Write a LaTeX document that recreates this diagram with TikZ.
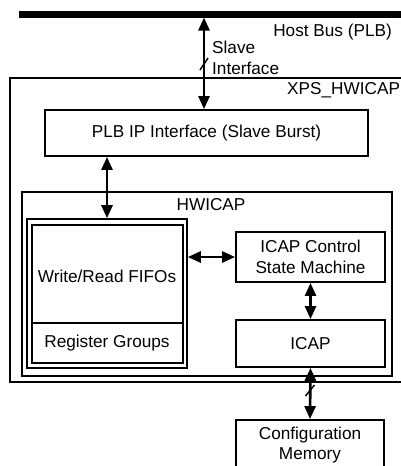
\documentclass[tikz,border=0pt]{standalone}
\usepackage{fontspec}
\setmainfont{Liberation Sans}
\usetikzlibrary{arrows.meta}
\begin{document}
\begin{tikzpicture}[x=1pt,y=-1pt,
  box/.style={draw=black,line width=1.8pt,inner sep=0pt,align=center,font=\fontsize{17.2}{20.5}\selectfont},
  lbl/.style={inner sep=0pt,font=\fontsize{17.2}{20.5}\selectfont},
  conn/.style={line width=2.6pt,{Triangle[length=13pt,width=11pt]}-{Triangle[length=13pt,width=11pt]}},
  slash/.style={line width=1.5pt}]
\useasboundingbox (0,0) rectangle (401,466);
\begin{scope}
\clip (0,0) rectangle (401,466);
% host bus
\coordinate (busL) at (19,14);
\coordinate (busR) at (410,14);
\draw[line width=7pt] (busL) -- (busR);
\coordinate (busA) at (204,17.5);
\node[lbl,anchor=east] (hostlbl) at (392,32) {Host Bus (PLB)};
% XPS_HWICAP outer box
\node[draw=black,line width=1.5pt,minimum width=400pt,minimum height=304pt,inner sep=0pt] (xps) at (210,230) {};
\node[lbl,anchor=west] (xpslbl) at (287,90) {XPS\_HWICAP};
% PLB IP interface
\node[box,minimum width=323pt,minimum height=46pt] (plb) at (206.5,133) {PLB IP Interface (Slave Burst)};
% HWICAP box
\node[box,minimum width=370pt,minimum height=184pt] (hw) at (207,284) {};
\node[lbl] (hwlbl) at (211,205) {HWICAP};
% FIFO block (double outline)
\node[draw=black,line width=1.6pt,minimum width=160pt,minimum height=149pt,inner sep=0pt] (fifoO) at (107,293.5) {};
\node[draw=black,line width=1.6pt,minimum width=151pt,minimum height=138pt,inner sep=0pt] (fifoI) at (107.5,294) {};
\coordinate (divL) at (32,323);
\coordinate (divR) at (183,323);
\draw[line width=1.6pt] (divL) -- (divR);
\node[lbl] (fifolbl) at (107,276) {Write/Read FIFOs};
\node[lbl] (reglbl) at (107,343) {Register Groups};
% ICAP control & ICAP
\node[box,minimum width=149pt,minimum height=50pt] (ctrl) at (310.5,257) {ICAP Control\\State Machine};
\node[box,minimum width=149pt,minimum height=47pt] (icap) at (310.5,343.5) {ICAP};
% configuration memory
\node[draw=black,line width=1.8pt,minimum width=148pt,minimum height=64pt,inner sep=0pt] (mem) at (310,452) {};
\node[lbl,align=center] (memlbl) at (310,445) {Configuration\\Memory};
% connectors
\draw[conn] (busA) -- (plb.north -| busA);
\node[lbl,anchor=west,align=left] (slavelbl) at (212,58) {Slave\\Interface};
\coordinate (s1a) at (200,70);
\coordinate (s1b) at (208,58);
\draw[slash] (s1a) -- (s1b);
\coordinate (pa) at (107,156);
\draw[conn] (plb.south -| pa) -- (fifoO.north -| pa);
\draw[conn] (fifoO.east |- ctrl) -- (ctrl.west);
\draw[conn] (ctrl.south) -- (icap.north);
\draw[conn] (icap.south) -- (mem.north);
\coordinate (s2a) at (305.5,396);
\coordinate (s2b) at (314.5,385);
\draw[slash] (s2a) -- (s2b);
\end{scope}
\end{tikzpicture}
\end{document}
